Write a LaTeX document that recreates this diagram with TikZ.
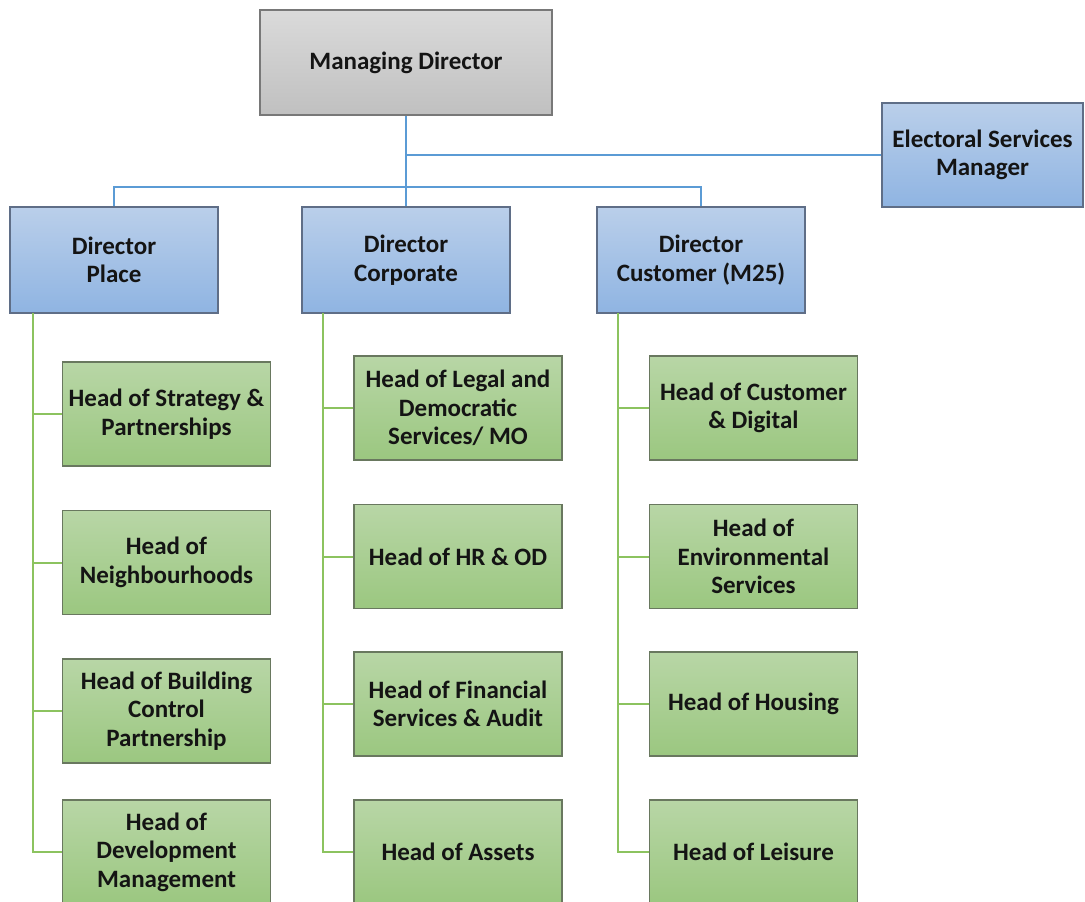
\documentclass[tikz,border=0pt]{standalone}
\usepackage{fontspec}
\setmainfont{Carlito}
\begin{document}
\begin{tikzpicture}[x=1pt,y=-1pt,
  box/.style={rectangle, align=center, font=\fontsize{25}{28.5}\selectfont\bfseries, text=black!92, line width=1.2pt, inner sep=1pt},
  graybox/.style={box, draw={rgb,255:red,120;green,120;blue,120}, top color={rgb,255:red,218;green,218;blue,218}, bottom color={rgb,255:red,192;green,192;blue,192}},
  bluebox/.style={box, draw={rgb,255:red,95;green,110;blue,135}, top color={rgb,255:red,186;green,207;blue,234}, bottom color={rgb,255:red,143;green,180;blue,226}, minimum width=208pt, minimum height=106pt},
  greenbox/.style={box, draw={rgb,255:red,105;green,120;blue,95}, top color={rgb,255:red,184;green,214;blue,166}, bottom color={rgb,255:red,155;green,199;blue,128}, minimum width=208pt, minimum height=104pt},
  blueline/.style={draw={rgb,255:red,91;green,155;blue,213}, line width=2pt},
  greenline/.style={draw={rgb,255:red,140;green,195;blue,95}, line width=2pt}]
\useasboundingbox (0,0) rectangle (1085,902);
\begin{scope}
\clip (0,0) rectangle (1085,902);
% nodes
\node[graybox, minimum width=292pt, minimum height=105pt] (md) at (406,62.5) {Managing Director};
\node[bluebox, minimum width=201pt, minimum height=104pt] (esm) at (982.5,155) {Electoral Services\\Manager};
\node[bluebox] (dp) at (114,260) {Director\\Place};
\node[bluebox] (dc) at (406,260) {Director\\Corporate};
\node[bluebox] (dcu) at (701,260) {Director\\Customer (M25)};
% column 1
\node[greenbox] (a1) at (166.5,414) {Head of Strategy \&\\Partnerships};
\node[greenbox] (a2) at (166.5,562.5) {Head of\\Neighbourhoods};
\node[greenbox] (a3) at (166.5,711) {Head of Building\\Control\\Partnership};
\node[greenbox] (a4) at (166.5,852) {Head of\\Development\\Management};
% column 2
\node[greenbox] (b1) at (458,408) {Head of Legal and\\Democratic\\Services/ MO};
\node[greenbox] (b2) at (458,556.5) {Head of HR \& OD};
\node[greenbox] (b3) at (458,704) {Head of Financial\\Services \& Audit};
\node[greenbox] (b4) at (458,852) {Head of Assets};
% column 3
\node[greenbox] (c1) at (753.5,408) {Head of Customer\\\& Digital};
\node[greenbox] (c2) at (753.5,556.5) {Head of\\Environmental\\Services};
\node[greenbox] (c3) at (753.5,704) {Head of Housing};
\node[greenbox] (c4) at (753.5,852) {Head of Leisure};
% blue connectors
\coordinate (bus) at (406,187);
\coordinate (esj) at (406,155);
\draw[blueline] (md.south) -- (bus);
\draw[blueline] (esj) -- (esm.west);
\draw[blueline] (dp.north) |- (bus) -| (dcu.north);
\draw[blueline] (bus) -- (dc.north);
% green connectors
\coordinate (ta) at (33,313);
\coordinate (tb) at (323,313);
\coordinate (tc) at (618,313);
\draw[greenline] (ta) |- (a4.west);
\draw[greenline] (ta |- a1.west) -- (a1.west);
\draw[greenline] (ta |- a2.west) -- (a2.west);
\draw[greenline] (ta |- a3.west) -- (a3.west);
\draw[greenline] (tb) |- (b4.west);
\draw[greenline] (tb |- b1.west) -- (b1.west);
\draw[greenline] (tb |- b2.west) -- (b2.west);
\draw[greenline] (tb |- b3.west) -- (b3.west);
\draw[greenline] (tc) |- (c4.west);
\draw[greenline] (tc |- c1.west) -- (c1.west);
\draw[greenline] (tc |- c2.west) -- (c2.west);
\draw[greenline] (tc |- c3.west) -- (c3.west);
\end{scope}
\end{tikzpicture}
\end{document}
